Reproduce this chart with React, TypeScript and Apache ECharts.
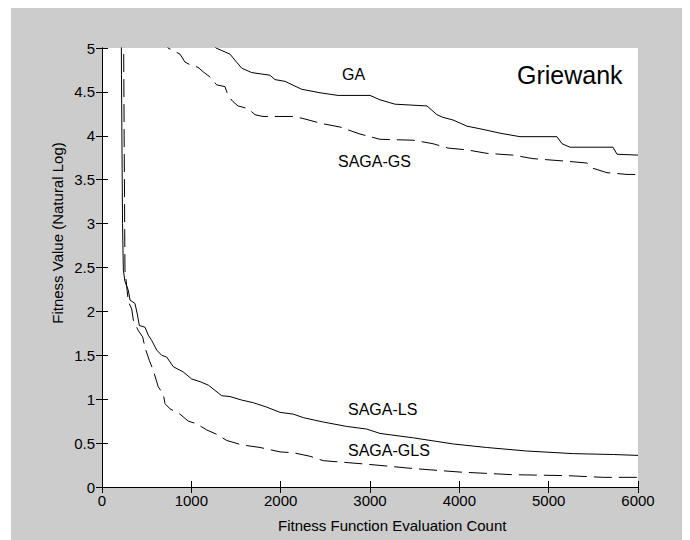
import React, { useEffect, useRef } from "react";
import * as echarts from "echarts";

const xTicks = [0, 1000, 2000, 3000, 4000, 5000, 6000];
const yTicks = [0, 0.5, 1, 1.5, 2, 2.5, 3, 3.5, 4, 4.5, 5];

const gaX = [200, 1100, 1276, 1433, 1489, 1564, 1676, 1880, 1937, 2049, 2235, 2440, 2642, 3000, 3112, 3280, 3638, 3750, 3817, 3929, 4086, 4231, 4455, 4679, 5093, 5149, 5239, 5720, 5765, 6000];
const gaY = [7.0, 5.2, 5.0, 4.93, 4.86, 4.77, 4.72, 4.69, 4.64, 4.62, 4.53, 4.49, 4.46, 4.46, 4.41, 4.36, 4.34, 4.24, 4.21, 4.18, 4.11, 4.08, 4.03, 3.99, 3.99, 3.91, 3.87, 3.87, 3.79, 3.78];

const gsX = [200, 739, 873, 929, 985, 1075, 1131, 1209, 1284, 1377, 1410, 1466, 1522, 1634, 1713, 1802, 2138, 2239, 2459, 2664, 2888, 3112, 3481, 3705, 3873, 4086, 4310, 4600, 4824, 5205, 5429, 5496, 5653, 5877, 6000];
const gsY = [6.5, 5.0, 4.93, 4.84, 4.81, 4.78, 4.73, 4.67, 4.58, 4.56, 4.46, 4.39, 4.34, 4.31, 4.24, 4.22, 4.22, 4.2, 4.14, 4.1, 4.02, 3.96, 3.95, 3.91, 3.86, 3.84, 3.8, 3.78, 3.74, 3.71, 3.69, 3.63, 3.58, 3.56, 3.56];

const lsX = [210, 218, 230, 239, 257, 295, 313, 369, 395, 418, 481, 518, 556, 612, 668, 724, 798, 910, 1004, 1097, 1190, 1340, 1433, 1564, 1694, 1843, 1993, 2142, 2253, 2477, 2739, 2963, 3112, 3485, 3933, 4306, 4754, 5276, 5723, 6000];
const lsY = [6.5, 4.7, 3.0, 2.47, 2.34, 2.24, 2.13, 2.09, 1.97, 1.84, 1.82, 1.73, 1.67, 1.56, 1.5, 1.48, 1.37, 1.31, 1.23, 1.2, 1.16, 1.04, 1.03, 0.99, 0.96, 0.91, 0.85, 0.83, 0.79, 0.74, 0.69, 0.66, 0.61, 0.56, 0.49, 0.45, 0.41, 0.38, 0.37, 0.36];

const glsX = [240, 248, 257, 295, 332, 351, 407, 455, 481, 530, 574, 630, 686, 705, 761, 873, 966, 1060, 1172, 1284, 1396, 1564, 1769, 1993, 2142, 2328, 2477, 2963, 3485, 4008, 4604, 5183, 5611, 6000];
const glsY = [5.5, 4.0, 2.47, 2.11, 2.03, 1.9, 1.78, 1.71, 1.59, 1.44, 1.33, 1.14, 1.06, 0.95, 0.89, 0.83, 0.75, 0.72, 0.65, 0.6, 0.53, 0.48, 0.45, 0.4, 0.39, 0.35, 0.3, 0.26, 0.21, 0.17, 0.14, 0.13, 0.11, 0.11];

const seriesNames = ["GA", "SAGA-GS", "SAGA-LS", "SAGA-GLS"];
const chartTitle = "Griewank";
const xTitle = "Fitness Function Evaluation Count";
const yTitle = "Fitness Value (Natural Log)";

const FONT = "'Liberation Sans', Arial, sans-serif";

function zip(xs: number[], ys: number[]) {
  return xs.map((x, i) => [x, ys[i]]);
}

export default function App() {
  const ref = useRef<HTMLDivElement>(null);
  useEffect(() => {
    if (!ref.current) return;
    const chart = echarts.init(ref.current, null, { renderer: "svg" });
    const axisCommon = {
      type: "value" as const,
      axisLine: { show: true, lineStyle: { color: "#000", width: 1 } },
      axisTick: { show: true, inside: true, length: 6, lineStyle: { color: "#000", width: 1 } },
      splitLine: { show: false },
    };
    const xBase = {
      ...axisCommon,
      min: xTicks[0],
      max: xTicks[xTicks.length - 1],
      interval: xTicks[1] - xTicks[0],
    };
    const yBase = {
      ...axisCommon,
      min: yTicks[0],
      max: yTicks[yTicks.length - 1],
      interval: yTicks[1] - yTicks[0],
    };
    const lineSeries = (name: string, xs: number[], ys: number[], dashed: boolean) => ({
      name,
      type: "line" as const,
      data: zip(xs, ys),
      showSymbol: false,
      symbol: "none",
      clip: true,
      lineStyle: { color: "#000", width: 1, type: dashed ? [18, 7] : "solid" },
      emphasis: { disabled: true },
    });
    chart.setOption({
      animation: false,
      backgroundColor: "#cccccc",
      grid: {
        left: 91,
        top: 40,
        width: 536,
        height: 439,
        show: true,
        backgroundColor: "#ffffff",
        borderWidth: 0,
      },
      xAxis: [
        {
          ...xBase,
          position: "bottom",
          axisLabel: {
            show: true,
            margin: 6,
            fontSize: 15,
            fontFamily: FONT,
            color: "#000",
            showMinLabel: true,
            showMaxLabel: true,
            formatter: (v: number) => String(v),
          },
        },
        { ...xBase, position: "top", axisLabel: { show: false } },
      ],
      yAxis: [
        {
          ...yBase,
          position: "left",
          axisLabel: {
            show: true,
            margin: 7,
            fontSize: 15,
            fontFamily: FONT,
            color: "#000",
            showMinLabel: true,
            showMaxLabel: true,
            formatter: (v: number) => String(v),
          },
        },
        { ...yBase, position: "right", axisLabel: { show: false } },
      ],
      series: [
        lineSeries(seriesNames[0], gaX, gaY, false),
        lineSeries(seriesNames[1], gsX, gsY, true),
        lineSeries(seriesNames[2], lsX, lsY, false),
        lineSeries(seriesNames[3], glsX, glsY, true),
      ],
      graphic: [
        {
          type: "text",
          x: 506,
          y: 67,
          style: { text: chartTitle, fontSize: 25, fontFamily: FONT, fill: "#000", textVerticalAlign: "middle", textAlign: "left" },
        },
        {
          type: "text",
          x: 331,
          y: 66,
          style: { text: seriesNames[0], fontSize: 16, fontFamily: FONT, fill: "#000", textVerticalAlign: "middle", textAlign: "left" },
        },
        {
          type: "text",
          x: 327,
          y: 153,
          style: { text: seriesNames[1], fontSize: 16, fontFamily: FONT, fill: "#000", textVerticalAlign: "middle", textAlign: "left" },
        },
        {
          type: "text",
          x: 337,
          y: 401,
          style: { text: seriesNames[2], fontSize: 16, fontFamily: FONT, fill: "#000", textVerticalAlign: "middle", textAlign: "left" },
        },
        {
          type: "text",
          x: 337,
          y: 442,
          style: { text: seriesNames[3], fontSize: 16, fontFamily: FONT, fill: "#000", textVerticalAlign: "middle", textAlign: "left" },
        },
        {
          type: "text",
          x: 267,
          y: 517,
          style: { text: xTitle, fontSize: 15, fontFamily: FONT, fill: "#000", textVerticalAlign: "middle", textAlign: "left" },
        },
        {
          type: "text",
          x: 46,
          y: 225,
          rotation: Math.PI / 2,
          style: { text: yTitle, fontSize: 15, fontFamily: FONT, fill: "#000", textVerticalAlign: "middle", textAlign: "center" },
        },
      ],
    });
    return () => chart.dispose();
  }, []);
  return (
    <div
      ref={ref}
      style={{ width: 679, height: 532, marginLeft: 3, background: "#cccccc" }}
    />
  );
}
